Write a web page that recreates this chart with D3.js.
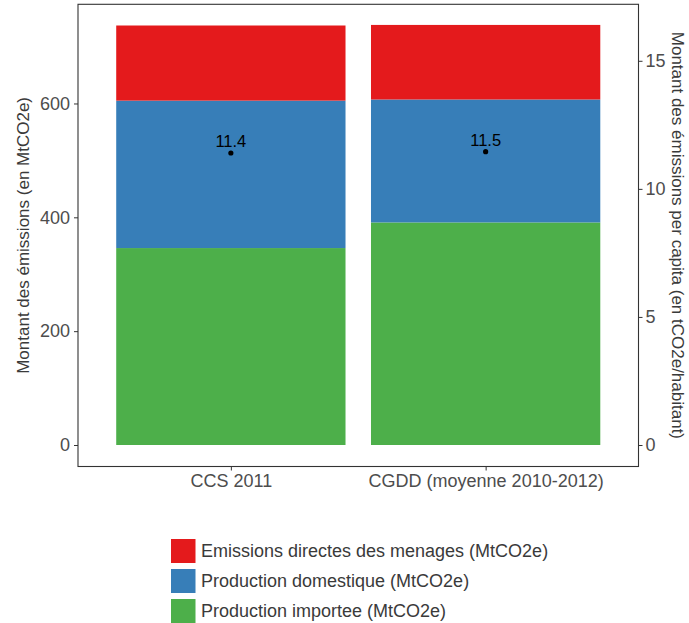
<!DOCTYPE html>
<html><head><meta charset="utf-8">
<script src="https://cdn.jsdelivr.net/npm/d3@7"></script>
<style>body{margin:0;background:#fff}svg{display:block}</style>
</head><body>
<script>
const categories = ["CCS 2011", "CGDD (moyenne 2010-2012)"];
const seriesNames = ["Production importee (MtCO2e)", "Production domestique (MtCO2e)", "Emissions directes des menages (MtCO2e)"];
const importee = [346, 391];
const domestique = [259, 216];
const directes = [132, 131];
const perCapita = [11.4, 11.45];
const perCapitaLabels = ["11.4", "11.5"];
const leftTicks = [0, 200, 400, 600];
const rightTicks = [0, 5, 10, 15];
const colors = ["#4DAF4A", "#377EB8", "#E41A1C"];
const legendOrder = [2, 1, 0];
const secFactor = 45;

const W = 689, H = 623;
const P = {l: 78, r: 638.5, t: 4.3, b: 466.5};
const svg = d3.select("body").append("svg").attr("width", W).attr("height", H);
const font = "Liberation Sans, Arial, sans-serif";

// emulate ggplot discrete axis: positions at 1,2 with range 0.4..2.6, bar width 0.9
const unit = (P.r-P.l)/2.2;
const xc = d3.scalePoint().domain(categories).range([P.l + unit*0.6, P.l + unit*1.6]);
const y = d3.scaleLinear().domain([0, 750]).range([445, 445 - 750*0.5692]);
const y2 = d3.scaleLinear().domain([0, 750/secFactor]).range([445, 445 - 750*0.5692]);

const series = [importee, domestique, directes];
const data = categories.map((c, i) => ({cat: c, v: series.map(s => s[i])}));
const stack = d3.stack().keys([0,1,2]).value((d, k) => d.v[k]);
const stacked = stack(data);

stacked.forEach((layer, k) => {
  svg.append("g").selectAll("rect").data(layer).join("rect")
    .attr("x", d => xc(d.data.cat) - unit*0.45)
    .attr("width", unit*0.9)
    .attr("y", d => y(d[1]))
    .attr("height", d => y(d[0]) - y(d[1]))
    .attr("fill", colors[k]);
});

// points and labels
svg.append("g").selectAll("circle").data(categories).join("circle")
  .attr("cx", d => xc(d)).attr("cy", (d, i) => y2(perCapita[i])).attr("r", 2.6).attr("fill", "#000");
svg.append("g").selectAll("text").data(categories).join("text")
  .attr("x", d => xc(d)).attr("y", (d, i) => y2(perCapita[i]) - 5.7)
  .attr("text-anchor", "middle").attr("font-family", font).attr("font-size", 16.5).attr("fill", "#000")
  .text((d, i) => perCapitaLabels[i]);

// panel border
svg.append("rect").attr("x", P.l).attr("y", P.t).attr("width", P.r-P.l).attr("height", P.b-P.t)
  .attr("fill", "none").attr("stroke", "#333").attr("stroke-width", 1.1);

// axes
const axL = svg.append("g").attr("transform", `translate(${P.l},0)`)
  .call(d3.axisLeft(y).tickValues(leftTicks).tickSize(4).tickPadding(4));
const axR = svg.append("g").attr("transform", `translate(${P.r},0)`)
  .call(d3.axisRight(y2).tickValues(rightTicks).tickSize(4).tickPadding(3));
const axB = svg.append("g").attr("transform", `translate(0,${P.b})`)
  .call(d3.axisBottom(xc).tickSize(4).tickPadding(4));
[axL, axR, axB].forEach(a => {
  a.select(".domain").remove();
  a.selectAll(".tick line").attr("stroke", "#333");
  a.selectAll(".tick text").attr("font-family", font).attr("font-size", 18).attr("fill", "#4d4d4d");
});

// axis titles
svg.append("text").attr("transform", `translate(29,${(P.t+P.b)/2}) rotate(-90)`)
  .attr("text-anchor", "middle").attr("font-family", font).attr("font-size", 17).attr("fill", "#3a3a3a")
  .text("Montant des émissions (en MtCO2e)");
svg.append("text").attr("transform", `translate(672,${(P.t+P.b)/2}) rotate(90)`)
  .attr("text-anchor", "middle").attr("font-family", font).attr("font-size", 17).attr("fill", "#3a3a3a")
  .text("Montant des émissions per capita (en tCO2e/habitant)");

// legend
const lg = svg.append("g").attr("transform", "translate(171,539)");
legendOrder.forEach((k, i) => {
  lg.append("rect").attr("x", 0).attr("y", i*30).attr("width", 24.5).attr("height", 24).attr("fill", colors[k]);
  lg.append("text").attr("x", 30).attr("y", i*30 + 12).attr("dy", "0.36em")
    .attr("font-family", font).attr("font-size", 18).attr("fill", "#3a3a3a").text(seriesNames[k]);
});
</script>
</body></html>
